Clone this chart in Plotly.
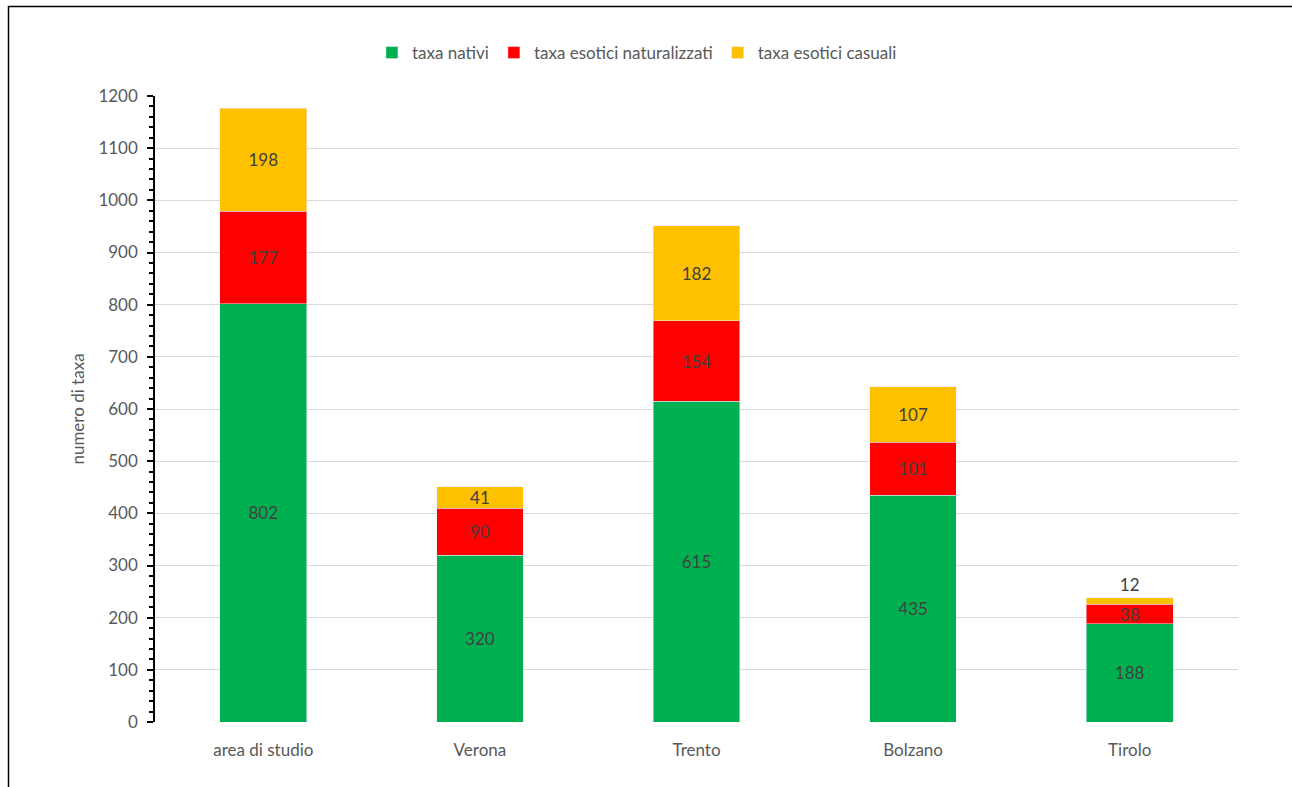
import plotly.graph_objects as go

categories = ["area di studio", "Verona", "Trento", "Bolzano", "Tirolo"]
nativi = [802, 320, 615, 435, 188]
naturalizzati = [177, 90, 154, 101, 38]
casuali = [198, 41, 182, 107, 12]
y_ticks = list(range(0, 1201, 100))

W, H = 1292, 787
L, R, T, B = 155, 54, 96, 65
pw, ph = W - L - R, H - T - B

FONT = "Lato, Carlito, Calibri, sans-serif"
lab_font = dict(family=FONT, size=17, color="#404040")

fig = go.Figure()
fig.add_trace(go.Bar(x=categories, y=nativi, name="taxa nativi", marker_color="#00b050",
                     text=nativi, textposition="inside", insidetextanchor="middle", textangle=0,
                     textfont=lab_font, constraintext="none"))
fig.add_trace(go.Bar(x=categories, y=naturalizzati, name="taxa esotici naturalizzati", marker_color="#ff0000",
                     text=naturalizzati, textposition="inside", insidetextanchor="middle", textangle=0,
                     textfont=lab_font, constraintext="none"))
pos_c = ["inside" if v > 20 else "outside" for v in casuali]
fig.add_trace(go.Bar(x=categories, y=casuali, name="taxa esotici casuali", marker_color="#ffc000",
                     text=casuali, textposition=pos_c, insidetextanchor="middle", textangle=0,
                     textfont=lab_font, outsidetextfont=lab_font, constraintext="none", cliponaxis=False))

def px_x(px):
    return (px - L) / pw

def px_y(py):
    return (H - B - py) / ph

# chart frame: left and top edges only (right/bottom fall outside the picture)
frame_path = "M {x0},{yb} L {x0},{yt} L {xr},{yt}".format(
    x0=px_x(8.5), yb=px_y(900), yt=px_y(6.5), xr=px_x(1500))
fig.add_shape(type="path", xref="paper", yref="paper", path=frame_path,
              line=dict(color="#000000", width=1.5), layer="below")

fig.update_layout(
    width=W, height=H,
    margin=dict(l=L, r=R, t=T, b=B),
    barmode="stack", bargap=0.6,
    plot_bgcolor="white", paper_bgcolor="white",
    font=dict(family=FONT, color="#595959"),
    legend=dict(orientation="h", x=0.445, xanchor="center", y=px_y(53), yanchor="middle",
                font=dict(family=FONT, size=17, color="#595959"), traceorder="normal",
                itemwidth=30),
    xaxis=dict(showline=False, ticks="", tickfont=dict(family=FONT, size=17, color="#595959"),
               showgrid=False, ticklabelstandoff=16),
    yaxis=dict(range=[0, 1200], tickvals=y_ticks, showgrid=True, gridcolor="#d9d9d9", gridwidth=1,
               showline=True, linecolor="#000000", linewidth=1.5, ticks="outside", ticklen=6,
               tickcolor="#000000", tickwidth=1.5,
               minor=dict(dtick=20, ticks="outside", ticklen=4, tickcolor="#000000", tickwidth=1.5, showgrid=False),
               tickfont=dict(family=FONT, size=17, color="#595959"), ticklabelstandoff=6,
               title=dict(text="numero di taxa", font=dict(family=FONT, size=17, color="#595959"), standoff=9),
               zeroline=False),
)

fig.write_html("out.html")
